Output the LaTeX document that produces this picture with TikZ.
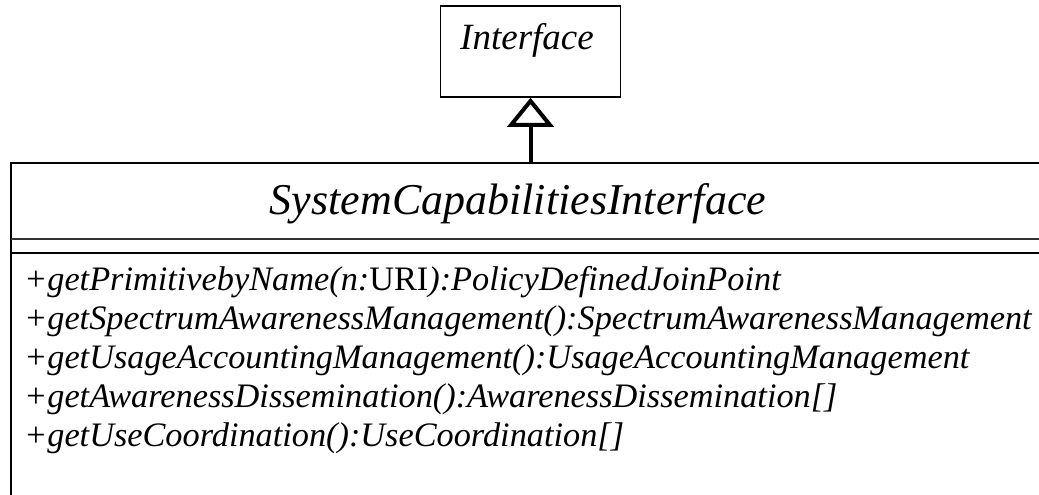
\documentclass[tikz,border=0pt]{standalone}
\usepackage{fontspec}
\setmainfont{Liberation Serif}
\usetikzlibrary{arrows.meta,positioning}

\begin{document}
\begin{tikzpicture}[x=1pt, y=-1pt,
    classbox/.style={draw, line width=1.5pt, minimum width=180pt, minimum height=91pt, inner sep=0pt},
    member/.style={anchor=base west, inner sep=0pt, font=\fontsize{34.3}{40}\selectfont\itshape},
    realize/.style={line width=4pt, -{Triangle[open, length=29pt, width=46pt, line width=4pt]}},
    rule/.style={line width=2.5pt}
]
\useasboundingbox (0,0) rectangle (1039,495);
\clip (0,0) rectangle (1039,495);

% Parent interface
\node[classbox] (iface) at (530.5,51.5) {};
\node[anchor=base, inner sep=0pt, font=\fontsize{37}{42}\selectfont\itshape] (ifacename) at (527,50) {Interface};

% Class frame (runs past the right and bottom edge)
\draw[rule] (11,520) -- (11,163) -- (1060,163);
\draw[rule, black!80] (11,239) -- (1060,239);
\draw[rule] (11,253) -- (1060,253);
\node[anchor=base, inner sep=0pt, font=\fontsize{44}{50}\selectfont\itshape] (clsname) at (518,214) {SystemCapabilitiesInterface};

% Realization
\coordinate (clstop) at (530.5,163);
\draw[realize] (clstop) -- (iface.south);

% Operations
\node[member] (op1) at (24,290) {+getPrimitivebyName(n:\upshape URI\itshape):PolicyDefinedJoinPoint};
\node[member] (op2) at (24,329) {+getSpectrumAwarenessManagement():SpectrumAwarenessManagement};
\node[member] (op3) at (24,368) {+getUsageAccountingManagement():UsageAccountingManagement};
\node[member] (op4) at (24,407) {+getAwarenessDissemination():AwarenessDissemination[]};
\node[member] (op5) at (24,446) {+getUseCoordination():UseCoordination[]};
\end{tikzpicture}
\end{document}
